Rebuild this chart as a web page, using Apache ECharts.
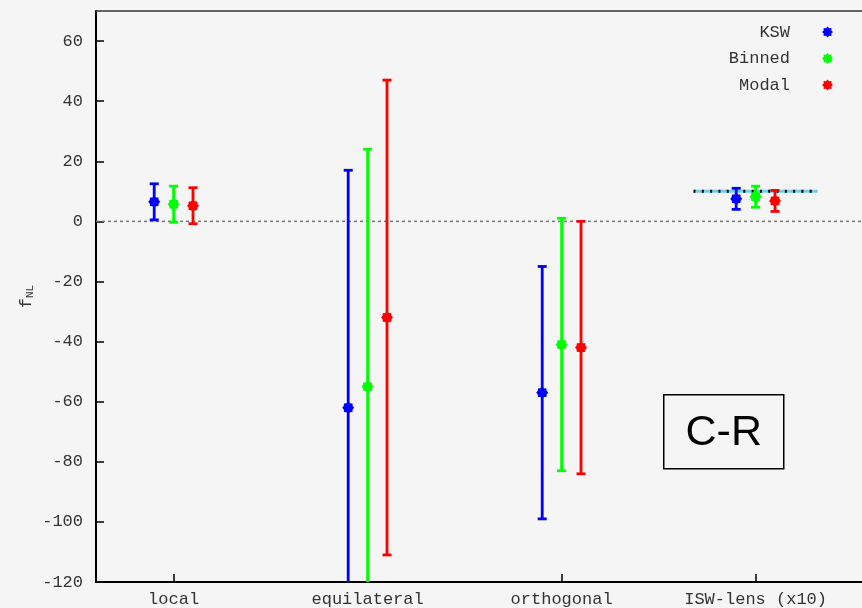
<!DOCTYPE html>
<html>
<head>
<meta charset="utf-8">
<script src="https://cdn.jsdelivr.net/npm/echarts@6/dist/echarts.min.js"></script>
<style>
  html, body { margin: 0; padding: 0; background: #f5f5f5; }
  #chart { width: 862px; height: 608px; }
</style>
</head>
<body>
<div id="chart"></div>
<script>
// Shape categories along the x axis (placed at x = 1, 2, 3, 4)
const categories = ['local', 'equilateral', 'orthogonal', 'ISW-lens (x10)'];

// f_NL estimates and 1-sigma errors for each estimator
const kswValues    = [6.5, -62, -57, 7.5];
const kswErrors    = [6, 79, 42, 3.5];
const binnedValues = [5.7, -55, -41, 8.2];
const binnedErrors = [6, 79, 42, 3.5];
const modalValues  = [5.2, -32, -42, 6.8];
const modalErrors  = [6, 79, 42, 3.5];

// Expected ISW-lensing amplitude (x10) and its horizontal span
const iswExpected = 10;
const iswSpan = [3.68, 4.32];

// y ticks
const yTicks = [-120, -100, -80, -60, -40, -20, 0, 20, 40, 60];

const FONT = '"Liberation Mono", "DejaVu Sans Mono", monospace';

function starPoints(cx, cy, rOut, rIn) {
  const pts = [];
  for (let i = 0; i < 16; i++) {
    const a = Math.PI / 8 * i;
    const r = i % 2 === 0 ? rOut : rIn;
    pts.push([cx + r * Math.cos(a), cy + r * Math.sin(a)]);
  }
  return pts;
}
const starIcon = 'path://' + starPoints(10, 10, 10, 7.5).map((p, i) => (i ? 'L' : 'M') + p[0].toFixed(2) + ' ' + p[1].toFixed(2)).join(' ') + 'Z';

function buildRows(values, errors, offset) {
  return values.map((v, i) => [i + 1 + offset, v, v - errors[i], v + errors[i]]);
}

function errorBarRenderer(color) {
  return function (params, api) {
    const x = api.value(0);
    const pC = api.coord([x, api.value(1)]);
    const pLo = api.coord([x, api.value(2)]);
    const pHi = api.coord([x, api.value(3)]);
    const cap = 4.5;
    const st = { stroke: color, lineWidth: 2.8 };
    return {
      type: 'group',
      children: [
        { type: 'line', shape: { x1: pHi[0], y1: pHi[1], x2: pLo[0], y2: pLo[1] }, style: st },
        { type: 'line', shape: { x1: pHi[0] - cap, y1: pHi[1], x2: pHi[0] + cap, y2: pHi[1] }, style: st },
        { type: 'line', shape: { x1: pLo[0] - cap, y1: pLo[1], x2: pLo[0] + cap, y2: pLo[1] }, style: st },
        { type: 'polygon', shape: { points: starPoints(pC[0], pC[1], 6, 4.8) }, style: { fill: color } }
      ]
    };
  };
}

const estimators = [
  { name: 'KSW', color: '#0000ff', rows: buildRows(kswValues, kswErrors, -0.1) },
  { name: 'Binned', color: '#00ff00', rows: buildRows(binnedValues, binnedErrors, 0) },
  { name: 'Modal', color: '#ff0000', rows: buildRows(modalValues, modalErrors, 0.1) }
];

const chart = echarts.init(document.getElementById('chart'), null, { renderer: 'canvas' });

const option = {
  backgroundColor: '#f5f5f5',
  animation: false,
  grid: { left: 96, top: 11, width: 776, height: 571, containLabel: false, outerBoundsMode: 'none' },
  xAxis: [
    {
      type: 'value', min: 0.6, max: 4.6,
      axisLine: { show: true, onZero: false, lineStyle: { color: '#000', width: 2 } },
      axisTick: { show: true, inside: true, length: 8, customValues: [1, 2, 3, 4], lineStyle: { color: '#000', width: 1.5 } },
      axisLabel: {
        show: true, customValues: [1, 2, 3, 4], margin: 9,
        fontFamily: FONT, fontSize: 17, color: '#333',
        formatter: v => categories[Math.round(v) - 1]
      },
      splitLine: { show: false }
    },
    {
      type: 'value', min: 0.6, max: 4.6, position: 'top',
      axisLine: { show: true, onZero: false, lineStyle: { color: '#333', width: 1.5 } },
      axisTick: { show: false }, axisLabel: { show: false }, splitLine: { show: false }
    }
  ],
  yAxis: {
    type: 'value', min: -120, max: 70,
    name: '{f|f}{s|NL}', nameLocation: 'middle', nameGap: 60, nameRotate: 90,
    nameMoveOverlap: false,
    nameTextStyle: {
      fontFamily: FONT, fontSize: 17, color: '#333',
      rich: {
        f: { fontFamily: FONT, fontSize: 17, color: '#333' },
        s: { fontFamily: FONT, fontSize: 11, color: '#333', padding: [9, 0, 0, 0] }
      }
    },
    axisLine: { show: true, onZero: false, lineStyle: { color: '#000', width: 2 } },
    axisTick: { show: true, inside: true, length: 8, customValues: yTicks, lineStyle: { color: '#000', width: 1.5 } },
    axisLabel: { customValues: yTicks, margin: 13, fontFamily: FONT, fontSize: 17, color: '#333' },
    splitLine: { show: false }
  },
  legend: {
    orient: 'vertical', right: 24, top: 17, align: 'right',
    itemWidth: 11, itemHeight: 11, itemGap: 6.5,
    selectedMode: false,
    data: estimators.map(e => ({ name: e.name, icon: starIcon })),
    textStyle: { fontFamily: FONT, fontSize: 17, color: '#333', lineHeight: 20, padding: [0, 27, 0, 0] }
  },
  series: [
    {
      type: 'line', silent: true, symbol: 'none', z: 1,
      data: [[0.6, 0], [4.6, 0]],
      lineStyle: { color: '#777', width: 1.5, type: [3, 3] }
    },
    {
      type: 'line', silent: true, symbol: 'none', z: 1,
      data: [[iswSpan[0], iswExpected], [iswSpan[1], iswExpected]],
      lineStyle: { color: '#6ccff0', width: 3 }
    },
    {
      type: 'line', silent: true, symbol: 'none', z: 1,
      data: [[iswSpan[0], iswExpected], [iswSpan[1], iswExpected]],
      lineStyle: { color: '#000', width: 3, type: [2, 6.3] }
    },
    ...estimators.map(e => ({
      type: 'custom', name: e.name, clip: true, z: 3,
      itemStyle: { color: e.color },
      renderItem: errorBarRenderer(e.color),
      encode: { x: 0, y: [1, 2, 3] },
      data: e.rows
    }))
  ],
  graphic: [
    {
      type: 'group', left: 663, top: 394,
      children: [
        { type: 'rect', shape: { x: 0, y: 0, width: 120, height: 74 }, style: { fill: '#f5f5f5', stroke: '#000', lineWidth: 1.5 } },
        { type: 'text', x: 60, y: 38, style: { text: 'C-R', font: '43px "Liberation Sans", Arial, sans-serif', fill: '#000', align: 'center', verticalAlign: 'middle' } }
      ]
    }
  ]
};

chart.setOption(option);
</script>
</body>
</html>
